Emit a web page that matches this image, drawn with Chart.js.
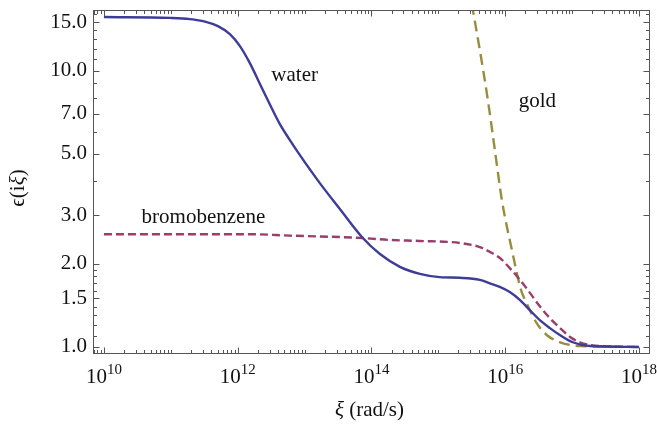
<!DOCTYPE html>
<html>
<head>
<meta charset="utf-8">
<script src="https://cdn.jsdelivr.net/npm/chart.js@4.4.1/dist/chart.umd.min.js"></script>
<style>
html,body{margin:0;padding:0;background:#fff;}
#wrap{width:657px;height:425px;position:relative;}
</style>
</head>
<body>
<div id="wrap"><canvas id="c" width="657" height="425"></canvas></div>
<script>
// ---- data (ξ in rad/s, ε(iξ)) ----
const xiWater  = [1e10, 9.70e10, 1.93e11, 3.24e11, 5.06e11, 7.64e11, 1.08e12, 1.52e12, 2.15e12, 3.03e12, 4.27e12, 6.03e12, 8.51e12, 1.69e13, 3.37e13, 7.43e13, 1.34e14, 2.66e14, 5.29e14, 1.05e15, 2.09e15, 4.17e15, 5.89e15, 8.30e15, 1.17e16, 1.65e16, 2.33e16, 3.29e16, 4.65e16, 6.55e16, 1.02e17, 1.84e17, 1e18];
const epsWater = [15.65, 15.54, 15.39, 15.07, 14.51, 13.58, 12.29, 10.66, 8.95, 7.55, 6.41, 5.61, 4.95, 3.92, 3.16, 2.48, 2.17, 1.95, 1.84, 1.79, 1.78, 1.75, 1.70, 1.65, 1.58, 1.48, 1.36, 1.25, 1.17, 1.105, 1.04, 1.008, 1.0];

const xiBromo  = [1e10, 1.51e12, 6.03e12, 7.41e13, 1.88e14, 5.25e14, 2.09e15, 4.17e15, 5.89e15, 8.32e15, 1.17e16, 1.66e16, 2.34e16, 3.31e16, 4.68e16, 6.61e16, 9.33e16, 1.30e17, 2.57e17, 1e18];
const epsBromo = [2.56, 2.56, 2.53, 2.48, 2.44, 2.42, 2.38, 2.30, 2.21, 2.10, 1.93, 1.75, 1.57, 1.40, 1.27, 1.17, 1.087, 1.04, 1.008, 1.0];

const xiGold   = [2.58e15, 3.28e15, 4.17e15, 5.50e15, 7.00e15, 8.91e15, 1.26e16, 1.72e16, 2.09e16, 2.95e16, 4.17e16, 6.61e16, 1.30e17, 1e18];
const epsGold  = [23.1, 16.6, 11.88, 7.83, 5.16, 3.40, 2.24, 1.61, 1.44, 1.22, 1.105, 1.04, 1.008, 1.0];

const yTickValues  = [1.0, 1.5, 2.0, 3.0, 5.0, 7.0, 10.0, 15.0];
const yMinorValues = [1.1, 1.2, 1.3, 1.4, 1.6, 1.7, 1.8, 1.9, 4, 6, 8, 9, 11, 12, 13, 14, 16];
const xTickExponents = [10, 12, 14, 16, 18];

const curveNames = ['water', 'bromobenzene', 'gold'];
const labelXi  = [7.1e12, 3.07e11, 3.02e16];
const labelEps = [9.65, 2.95, 7.77];

const xMin = 6.86e9, xMax = 1.46e18, yMin = 0.943, yMax = 16.6;

const SERIF = '"Liberation Serif", "Times New Roman", serif';

function pts(xs, ys){ return xs.map((v,i)=>({x:v, y:ys[i]})); }

const decorPlugin = {
  id: 'decor',
  afterDatasetsDraw(chart){
    const ctx = chart.ctx, a = chart.chartArea;
    const xs = chart.scales.x, ys = chart.scales.y;
    ctx.save();
    ctx.strokeStyle = '#555';
    ctx.lineWidth = 1;
    ctx.strokeRect(Math.round(a.left)+0.5, Math.round(a.top)+0.5, Math.round(a.right-a.left)-1, Math.round(a.bottom-a.top)-1);
    const L = Math.round(a.left)+0.5, R = Math.round(a.right)-0.5, T = Math.round(a.top)+0.5, B = Math.round(a.bottom)-0.5;
    ctx.beginPath();
    const majorX = xTickExponents.map(e=>Math.pow(10,e));
    for (let k=9; k<=18; k++){
      for (let m=1; m<=9; m++){
        const v = m*Math.pow(10,k);
        if (v < xMin || v > xMax) continue;
        const isMajor = majorX.some(mv=>Math.abs(mv/v-1)<1e-9);
        const len = isMajor ? 6 : 3.5;
        const px = Math.round(xs.getPixelForValue(v))+0.5;
        ctx.moveTo(px, B); ctx.lineTo(px, B-len);
        ctx.moveTo(px, T); ctx.lineTo(px, T+len);
      }
    }
    yTickValues.forEach(v=>{
      const py = Math.round(ys.getPixelForValue(v))+0.5;
      ctx.moveTo(L, py); ctx.lineTo(L+6, py);
      ctx.moveTo(R, py); ctx.lineTo(R-6, py);
    });
    yMinorValues.forEach(v=>{
      const py = Math.round(ys.getPixelForValue(v))+0.5;
      ctx.moveTo(L, py); ctx.lineTo(L+3.5, py);
      ctx.moveTo(R, py); ctx.lineTo(R-3.5, py);
    });
    ctx.stroke();

    ctx.fillStyle = '#111';
    ctx.textBaseline = 'alphabetic';
    xTickExponents.forEach(e=>{
      const px = xs.getPixelForValue(Math.pow(10,e));
      ctx.font = '21px ' + SERIF;
      const wBase = ctx.measureText('10').width;
      ctx.font = '15px ' + SERIF;
      const wExp = ctx.measureText(String(e)).width;
      const x0 = px - (wBase + wExp)/2;
      const base = a.bottom + 29;
      ctx.font = '21px ' + SERIF;
      ctx.textAlign = 'left';
      ctx.fillText('10', x0, base);
      ctx.font = '15px ' + SERIF;
      ctx.fillText(String(e), x0 + wBase, base - 9);
    });

    ctx.font = 'italic 21px ' + SERIF;
    const t1 = 'ξ', t2 = ' (rad/s)';
    const w1 = ctx.measureText(t1).width;
    ctx.font = '21px ' + SERIF;
    const w2 = ctx.measureText(t2).width;
    const cx = (a.left + a.right)/2 - 2;
    const by = a.bottom + 62;
    ctx.font = 'italic 21px ' + SERIF;
    ctx.fillText(t1, cx - (w1+w2)/2, by);
    ctx.font = '21px ' + SERIF;
    ctx.fillText(t2, cx - (w1+w2)/2 + w1, by);

    ctx.save();
    ctx.translate(24, (a.top + a.bottom)/2 + 6);
    ctx.rotate(-Math.PI/2);
    const parts = [['ϵ(i', false], ['ξ', true], [')', false]];
    let tw = 0;
    parts.forEach(p=>{ ctx.font = (p[1]?'italic ':'') + '21px ' + SERIF; tw += ctx.measureText(p[0]).width; });
    let xx = -tw/2;
    parts.forEach(p=>{ ctx.font = (p[1]?'italic ':'') + '21px ' + SERIF; ctx.fillText(p[0], xx, 0); xx += ctx.measureText(p[0]).width; });
    ctx.restore();

    ctx.font = '21px ' + SERIF;
    ctx.textAlign = 'center';
    ctx.textBaseline = 'middle';
    curveNames.forEach((n,i)=>{
      ctx.fillText(n, xs.getPixelForValue(labelXi[i]), ys.getPixelForValue(labelEps[i]));
    });
    ctx.restore();
  }
};

new Chart(document.getElementById('c'), {
  type: 'line',
  data: {
    datasets: [
      { label: 'water', data: pts(xiWater, epsWater), borderColor: '#3d3d99', borderWidth: 2.4, pointRadius: 0, cubicInterpolationMode: 'monotone', fill: false, clip: 0 },
      { label: 'bromobenzene', data: pts(xiBromo, epsBromo), borderColor: '#993d6b', borderWidth: 2.4, borderDash: [8, 4], pointRadius: 0, cubicInterpolationMode: 'monotone', fill: false, clip: 0 },
      { label: 'gold', data: pts(xiGold, epsGold), borderColor: '#9a8c3d', borderWidth: 2.4, borderDash: [11, 6], pointRadius: 0, cubicInterpolationMode: 'monotone', fill: false, clip: 0 }
    ]
  },
  options: {
    responsive: false,
    animation: false,
    devicePixelRatio: 1,
    layout: { padding: { top: 10, right: 7, left: 0, bottom: 0 } },
    plugins: { legend: { display: false }, tooltip: { enabled: false }, title: { display: false } },
    scales: {
      x: {
        type: 'logarithmic', min: xMin, max: xMax,
        grid: { display: false, drawTicks: false },
        border: { display: false },
        ticks: { display: false },
        afterFit(s){ s.height = 71; s.paddingLeft = 0; s.paddingRight = 0; }
      },
      y: {
        type: 'logarithmic', min: yMin, max: yMax,
        grid: { display: false, drawTicks: false },
        border: { display: false },
        afterBuildTicks(s){ s.ticks = yTickValues.map(v=>({value: v})); },
        ticks: {
          color: '#111', padding: 6,
          font: { family: SERIF, size: 21 },
          callback: (v)=> Number(v).toFixed(1)
        },
        afterFit(s){ s.width = 93; s.paddingTop = 0; s.paddingBottom = 0; }
      }
    }
  },
  plugins: [decorPlugin]
});
</script>
</body>
</html>
